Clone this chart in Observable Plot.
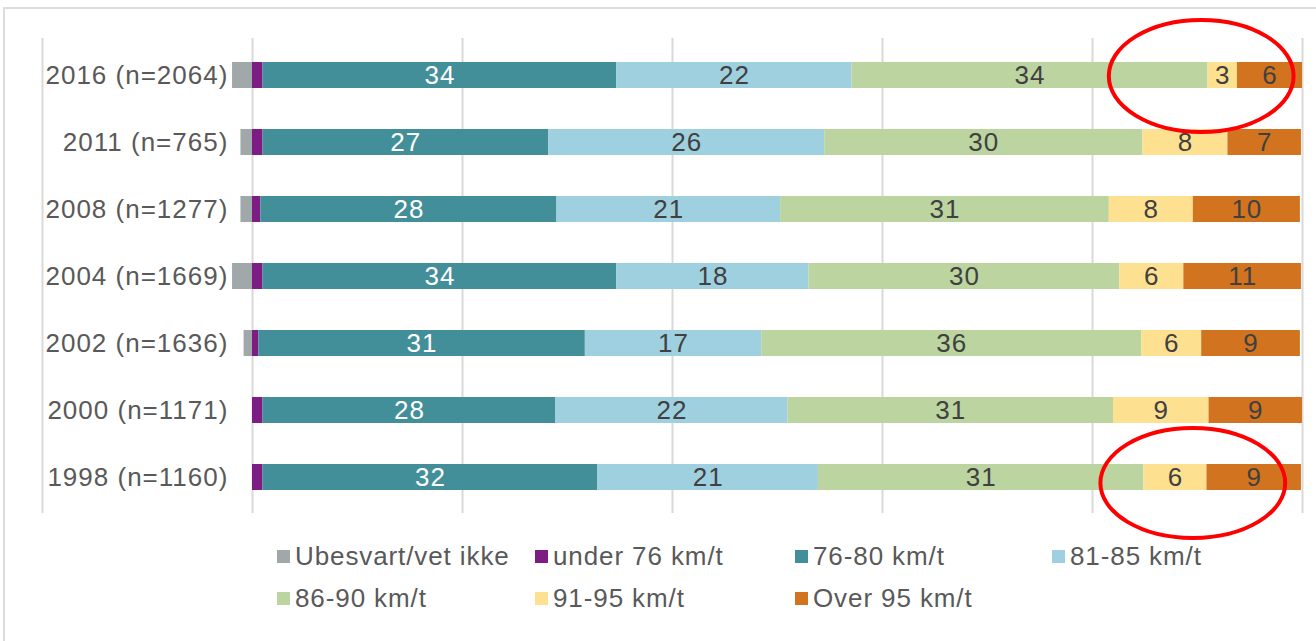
<!DOCTYPE html>
<html><head><meta charset="utf-8">
<script src="https://cdn.jsdelivr.net/npm/d3@7"></script>
<script src="https://cdn.jsdelivr.net/npm/@observablehq/plot@0.6"></script>
<style>
body{margin:0;background:#fff;font-family:"Liberation Sans",Arial,sans-serif;width:1316px;height:641px;overflow:hidden;position:relative;}
#frame{position:absolute;left:3px;top:7px;width:1340px;height:660px;border:2px solid #dcdcdc;box-sizing:border-box;}
#chart{position:absolute;left:0;top:0;z-index:2;}
#legend{position:absolute;left:0;top:520px;width:1316px;height:121px;z-index:1;}
.item{position:absolute;display:flex;align-items:center;height:30px;font-size:26px;letter-spacing:0.9px;color:#595959;white-space:nowrap;}
.sw{width:13px;height:13px;margin-right:5px;flex:none;}
svg text{letter-spacing:1px;}
</style></head><body>
<div id="frame"></div>
<div id="chart"></div>
<div id="legend"></div>
<script>
const categories = ["2016 (n=2064)", "2011 (n=765)", "2008 (n=1277)", "2004 (n=1669)", "2002 (n=1636)", "2000 (n=1171)", "1998 (n=1160)"];
const seriesNames = ["Ubesvart/vet ikke", "under 76 km/t", "76-80 km/t", "81-85 km/t", "86-90 km/t", "91-95 km/t", "Over 95 km/t"];
const seriesColors = ["#a0a8a9", "#7d1d83", "#438f99", "#9fd0e0", "#bcd4a0", "#fee190", "#d2741f"];
// Ubesvart is drawn on the negative side of zero
const ubesvart = [1.9, 1.1, 1.1, 1.9, 0.8, 0, 0];
const under76 = [1.0, 1.0, 0.8, 1.0, 0.6, 1.0, 1.0];
const s76_80 = [33.7, 27.2, 28.2, 33.7, 31.1, 27.9, 31.9];
const s81_85 = [22.4, 26.3, 21.3, 18.3, 16.8, 22.1, 21.0];
const s86_90 = [33.9, 30.3, 31.3, 29.6, 36.2, 31.0, 31.0];
const s91_95 = [2.8, 8.1, 8.0, 6.1, 5.7, 9.1, 6.0];
const over95 = [6.2, 7.0, 10.2, 11.2, 9.4, 8.9, 9.0];
const labeledSeries = ["76-80 km/t", "81-85 km/t", "86-90 km/t", "91-95 km/t", "Over 95 km/t"];
const xTicks = [-20, 0, 20, 40, 60, 80, 100];
const highlights = [
  {cat: "2016 (n=2064)", x: 90.4, rx: 8.8, ry: 56, dy: 1},
  {cat: "1998 (n=1160)", x: 89.6, rx: 8.8, ry: 55, dy: 6}
];

const seriesValues = [ubesvart.map(v => -v), under76, s76_80, s81_85, s86_90, s91_95, over95];
const data = [];
categories.forEach((c, i) => {
  seriesNames.forEach((s, j) => {
    data.push({cat: c, series: s, value: seriesValues[j][i]});
  });
});
const labelText = (d) => labeledSeries.includes(d.series) ? String(Math.round(Math.abs(d.value))) : "";

const plot = Plot.plot({
  width: 1316,
  height: 520,
  marginTop: 38,
  marginBottom: 7,
  marginLeft: 42,
  marginRight: 14,
  style: {fontFamily: '"Liberation Sans", Arial, sans-serif', background: "transparent"},
  x: {domain: [-20, 100], axis: null},
  y: {domain: categories, axis: null, paddingInner: 0.617, paddingOuter: 0.31},
  color: {domain: seriesNames, range: seriesColors},
  marks: [
    Plot.ruleX(xTicks, {stroke: "#d9d9d9", strokeWidth: 2}),
    Plot.barX(data.filter(d => d.value !== 0), Plot.stackX({x: "value", y: "cat", fill: "series", z: "series", order: seriesNames})),
    Plot.text(data, Plot.stackX({x: "value", y: "cat", z: "series", order: seriesNames,
      text: d => d.series === "76-80 km/t" ? labelText(d) : "", fill: "white", fontSize: 26})),
    Plot.text(data, Plot.stackX({x: "value", y: "cat", z: "series", order: seriesNames,
      text: d => d.series !== "76-80 km/t" ? labelText(d) : "", fill: "#404040", fontSize: 26})),
    Plot.text(categories, {x: -2.3, y: d => d, text: d => d, textAnchor: "end", fill: "#595959", fontSize: 26})
  ]
});
plot.style.overflow = "visible";
document.getElementById("chart").appendChild(plot);

// red highlight ellipses placed through the scales
const xs = plot.scale("x"), ys = plot.scale("y");
const svg = d3.select(plot);
highlights.forEach(h => {
  svg.append("ellipse")
    .attr("cx", xs.apply(h.x))
    .attr("cy", ys.apply(h.cat) + ys.bandwidth / 2 + h.dy)
    .attr("rx", h.rx * 10.5)
    .attr("ry", h.ry)
    .attr("fill", "none")
    .attr("stroke", "#ff0000")
    .attr("stroke-width", 4);
});

// legend
const legendLayout = [[0, 0], [1, 0], [2, 0], [3, 0], [0, 1], [1, 1], [2, 1]];
const colLeft = [277, 535, 795, 1052];
const rowTop = [21, 63];
const legend = document.getElementById("legend");
seriesNames.forEach((s, i) => {
  const [c, r] = legendLayout[i];
  const it = document.createElement("div");
  it.className = "item";
  it.style.left = colLeft[c] + "px";
  it.style.top = rowTop[r] + "px";
  const sw = document.createElement("span");
  sw.className = "sw";
  sw.style.background = seriesColors[i];
  it.appendChild(sw);
  it.appendChild(document.createTextNode(s));
  legend.appendChild(it);
});
</script>
</body></html>
